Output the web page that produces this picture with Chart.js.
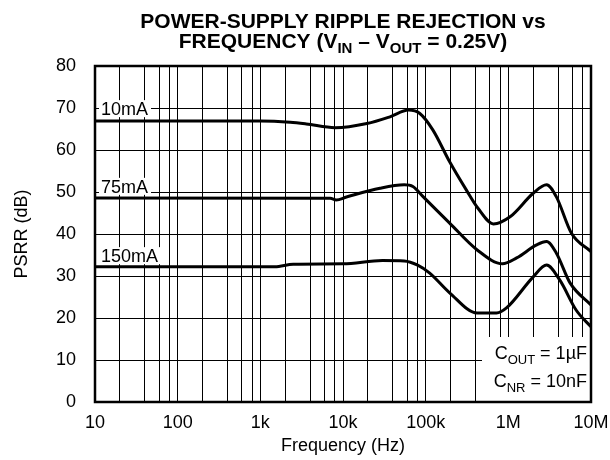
<!DOCTYPE html>
<html lang="en">
<head>
  <meta charset="UTF-8" />
  <title>PSRR vs Frequency</title>
  <script src="https://cdn.jsdelivr.net/npm/chart.js"></script>
  <style>
    body { margin: 0; background: #fff; }
    .wrap { position: relative; width: 610px; height: 460px; }
  </style>
</head>
<body>
  <div class="wrap"><canvas id="psrrChart"></canvas></div>

  <script>
    // values (Hz, dB)
    const freq10mA = [10, 1000, 2300, 3600, 8000, 19500, 37000, 62000, 85000, 122000, 195000, 310000, 427000, 660000, 1050000, 2000000, 2900000, 3800000, 5800000, 10000000];
    const psrr10mA = [66.9, 66.9, 66.6, 66.2, 65.3, 66.3, 67.9, 69.5, 68.7, 64.8, 57.2, 50.5, 46.2, 42.4, 44.1, 49.7, 51.7, 48.9, 40.2, 35.8];

    const freq75mA = [10, 7000, 8300, 11000, 28000, 55000, 70000, 93000, 195000, 420000, 850000, 1260000, 2200000, 2900000, 3800000, 5600000, 10000000];
    const psrr75mA = [48.6, 48.5, 48.1, 48.8, 50.9, 51.7, 51.3, 48.9, 42.6, 36.2, 32.9, 34.3, 37.4, 38.2, 35.5, 28.3, 23.1];

    const freq150mA = [10, 1500, 2500, 10000, 30000, 55000, 80000, 112000, 195000, 420000, 720000, 950000, 2000000, 2900000, 4200000, 6600000, 10000000];
    const psrr150mA = [32.2, 32.2, 32.8, 32.9, 33.7, 33.6, 32.6, 30.7, 26.0, 21.2, 21.2, 22.4, 29.8, 32.6, 29.0, 21.9, 17.9];

    const seriesLabels = ['10mA', '75mA', '150mA'];
    const labelLevels = [68.3, 49.8, 33.3];   // dB where each label's baseline sits
    const decades = [10, 100, 1000, 10000, 100000, 1000000, 10000000];
    const decadeLabels = ['10', '100', '1k', '10k', '100k', '1M', '10M'];
    const gridSteps = [1, 2, 4, 6, 8];

    const FONT = '"Liberation Sans", Arial, Helvetica, sans-serif';

    const gridValues = [];
    decades.forEach((d, i) => {
      if (i === decades.length - 1) { gridValues.push(d); return; }
      gridSteps.forEach(s => gridValues.push(d * s));
    });

    const toPoints = (xs, ys) => xs.map((x, i) => ({ x: x, y: ys[i] }));

    // draw a run of text pieces, some as subscripts
    function drawRich(ctx, parts, x, y, size, bold, align) {
      const main = (bold ? 'bold ' : '') + size + 'px ' + FONT;
      const small = (bold ? 'bold ' : '') + Math.round(size * 0.72) + 'px ' + FONT;
      let total = 0;
      parts.forEach(p => { ctx.font = p.sub ? small : main; total += ctx.measureText(p.t).width; });
      let cx = align === 'center' ? x - total / 2 : align === 'right' ? x - total : x;
      ctx.textAlign = 'left';
      ctx.textBaseline = 'alphabetic';
      parts.forEach(p => {
        ctx.font = p.sub ? small : main;
        ctx.fillText(p.t, cx, p.sub ? y + size * 0.26 : y);
        cx += ctx.measureText(p.t).width;
      });
    }

    const decorPlugin = {
      id: 'decor',
      afterDatasetsDraw(chart) {
        const ctx = chart.ctx;
        const a = chart.chartArea;
        const ys = chart.scales.y;
        ctx.save();

        // curve labels on white patches
        ctx.font = '18px ' + FONT;
        seriesLabels.forEach((txt, i) => {
          const py = ys.getPixelForValue(labelLevels[i]);
          const w = ctx.measureText(txt).width;
          ctx.fillStyle = '#fff';
          ctx.fillRect(a.left + 4, py - 15, w + 5, 17);
          ctx.fillStyle = '#000';
          ctx.textAlign = 'left';
          ctx.textBaseline = 'alphabetic';
          ctx.fillText(txt, a.left + 6, py);
        });

        // capacitor note box, bottom right
        ctx.fillStyle = '#fff';
        ctx.fillRect(a.right - 109, a.bottom - 65, 109, 65);
        ctx.fillStyle = '#000';
        drawRich(ctx, [{ t: 'C' }, { t: 'OUT', sub: true }, { t: ' = 1\u00b5F' }], a.right - 4, a.bottom - 43, 18, false, 'right');
        drawRich(ctx, [{ t: 'C' }, { t: 'NR', sub: true }, { t: ' = 10nF' }], a.right - 4, a.bottom - 15, 18, false, 'right');

        // frame
        ctx.strokeStyle = '#000';
        ctx.lineWidth = 2.5;
        ctx.strokeRect(a.left, a.top, a.right - a.left, a.bottom - a.top);

        // two-line title with subscripts
        const cx = (a.left + a.right) / 2;
        drawRich(ctx, [{ t: 'POWER-SUPPLY RIPPLE REJECTION vs' }], cx, 28, 21, true, 'center');
        drawRich(ctx, [{ t: 'FREQUENCY (V' }, { t: 'IN', sub: true }, { t: ' \u2013 V' }, { t: 'OUT', sub: true }, { t: ' = 0.25V)' }], cx, 48, 21, true, 'center');
        ctx.restore();
      }
    };

    const lineStyle = {
      borderColor: '#000',
      borderWidth: 3,
      pointRadius: 0,
      fill: false,
      cubicInterpolationMode: 'monotone'
    };

    new Chart(document.getElementById('psrrChart'), {
      type: 'line',
      data: {
        datasets: [
          Object.assign({ label: seriesLabels[0], data: toPoints(freq10mA, psrr10mA) }, lineStyle),
          Object.assign({ label: seriesLabels[1], data: toPoints(freq75mA, psrr75mA) }, lineStyle),
          Object.assign({ label: seriesLabels[2], data: toPoints(freq150mA, psrr150mA) }, lineStyle)
        ]
      },
      options: {
        responsive: true,
        maintainAspectRatio: false,
        animation: false,
        layout: { padding: { top: 66, right: 19, left: 0, bottom: 0 } },
        plugins: {
          legend: { display: false },
          tooltip: { enabled: false }
        },
        scales: {
          x: {
            type: 'logarithmic',
            min: 10,
            max: 10000000,
            afterBuildTicks: scale => { scale.ticks = gridValues.map(v => ({ value: v })); },
            afterFit: scale => {
              scale.height = 58;
              scale.paddingLeft = 0;
              scale.paddingRight = 0;
            },
            ticks: {
              autoSkip: false,
              maxRotation: 0,
              padding: 10,
              color: '#000',
              font: { family: FONT, size: 18 },
              callback: value => {
                const i = decades.indexOf(value);
                return i >= 0 ? decadeLabels[i] : '';
              }
            },
            grid: { color: '#000', lineWidth: 1, drawTicks: false },
            border: { color: '#000', width: 2 },
            title: {
              display: true,
              text: 'Frequency (Hz)',
              color: '#000',
              font: { family: FONT, size: 18 },
              padding: { top: 0, bottom: 3 }
            }
          },
          y: {
            min: 0,
            max: 80,
            afterFit: scale => { scale.width = 95; },
            ticks: {
              stepSize: 10,
              padding: 19,
              color: '#000',
              font: { family: FONT, size: 18 }
            },
            grid: { color: '#000', lineWidth: 1, drawTicks: false },
            border: { color: '#000', width: 2 },
            title: {
              display: true,
              text: 'PSRR (dB)',
              color: '#000',
              font: { family: FONT, size: 18 },
              padding: { top: 11, bottom: 0 }
            }
          }
        }
      },
      plugins: [decorPlugin]
    });
  </script>
</body>
</html>
